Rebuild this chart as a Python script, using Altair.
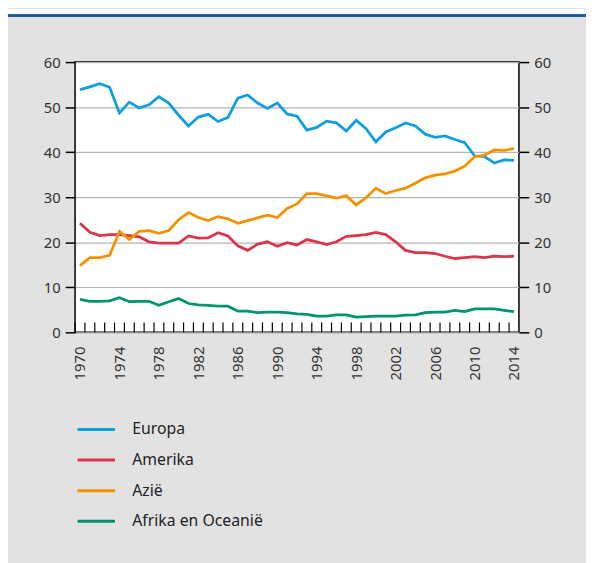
import altair as alt
import pandas as pd

years = list(range(1970, 2015))
europa = [53.9, 54.5, 55.2, 54.4, 48.7, 51.1, 49.8, 50.5, 52.3, 50.9,
          48.2, 45.8, 47.8, 48.4, 46.8, 47.7, 52.0, 52.7, 50.9, 49.7,
          50.9, 48.5, 48.0, 44.9, 45.5, 46.9, 46.5, 44.7, 47.1, 45.2,
          42.3, 44.5, 45.4, 46.5, 45.8, 44.0, 43.3, 43.6, 42.8, 42.1,
          39.2, 39.0, 37.6, 38.3, 38.2]
amerika = [24.2, 22.2, 21.5, 21.7, 21.7, 21.5, 21.2, 20.1, 19.8, 19.8,
           19.8, 21.4, 20.9, 21.0, 22.1, 21.4, 19.2, 18.2, 19.6, 20.1,
           19.1, 19.9, 19.4, 20.6, 20.1, 19.5, 20.1, 21.3, 21.5, 21.7,
           22.2, 21.7, 20.1, 18.2, 17.7, 17.7, 17.5, 16.9, 16.4, 16.6,
           16.8, 16.6, 16.9, 16.8, 16.9]
azie = [14.8, 16.6, 16.6, 17.1, 22.4, 20.6, 22.4, 22.6, 22.0, 22.6,
        25.0, 26.6, 25.5, 24.8, 25.7, 25.2, 24.2, 24.8, 25.4, 26.0,
        25.5, 27.5, 28.5, 30.8, 30.8, 30.3, 29.8, 30.3, 28.3, 29.9,
        32.0, 30.8, 31.5, 32.0, 33.1, 34.3, 34.9, 35.2, 35.8, 36.9,
        39.0, 39.3, 40.5, 40.4, 40.8]
afrika = [7.3, 6.9, 6.9, 7.0, 7.7, 6.8, 6.9, 6.9, 6.0, 6.8,
          7.5, 6.4, 6.1, 6.0, 5.8, 5.8, 4.7, 4.7, 4.4, 4.5,
          4.5, 4.4, 4.1, 4.0, 3.6, 3.6, 3.9, 3.9, 3.4, 3.5,
          3.6, 3.6, 3.6, 3.8, 3.9, 4.4, 4.5, 4.5, 4.9, 4.6,
          5.2, 5.2, 5.2, 4.9, 4.6]

series_names = ["Europa", "Amerika", "Azië", "Afrika en Oceanië"]
series_colors = ["#0f9fdf", "#d8364c", "#f39200", "#00946e"]
label_years = list(range(1970, 2015, 4))
y_ticks = [0, 10, 20, 30, 40, 50, 60]

rows = []
for name, vals in zip(series_names, [europa, amerika, azie, afrika]):
    for yr, v in zip(years, vals):
        rows.append({"jaar": yr, "waarde": v, "regio": name})
df = pd.DataFrame(rows)
ticks_df = pd.DataFrame({"jaar": years})

FONT = "Noto Sans"
W, H = 450, 274

xscale = alt.Scale(domain=[1969.5, 2014.5], nice=False, zero=False)
yscale = alt.Scale(domain=[0, 60], nice=False)

xaxis = alt.Axis(values=label_years, format="d", title=None, labelAngle=-90,
                 labelAlign="right", labelBaseline="middle",
                 ticks=False, tickSize=0, labelPadding=14, domain=False,
                 grid=False, labelFontSize=15, labelColor="#333333",
                 labelFont=FONT)

lines = alt.Chart(df).mark_line(strokeWidth=2.8).encode(
    x=alt.X("jaar:Q", scale=xscale, axis=xaxis),
    y=alt.Y("waarde:Q", scale=yscale,
            axis=alt.Axis(values=y_ticks, title=None, orient="left", tickSize=10,
                          tickColor="#000000", tickWidth=1.5, labelPadding=5,
                          labelFontSize=15, labelColor="#333333", labelFont=FONT,
                          grid=True, gridColor="#b4b4b4", gridWidth=1.2, domain=False)),
    color=alt.Color("regio:N", sort=series_names,
                    scale=alt.Scale(domain=series_names, range=series_colors),
                    legend=alt.Legend(title=None, orient="none", legendX=1, legendY=352,
                                      direction="vertical", symbolType="stroke",
                                      symbolSize=1444, symbolStrokeWidth=3,
                                      labelFontSize=16, labelFont=FONT, labelColor="#222222",
                                      labelOffset=16, rowPadding=2, padding=0)),
)

xticks = alt.Chart(ticks_df).transform_calculate(
    grens="datum.jaar - 0.5"
).mark_rule(color="#000000", strokeWidth=1.2).encode(
    x=alt.X("grens:Q", scale=xscale, axis=xaxis),
    y=alt.Y(datum=0, scale=yscale,
            axis=alt.Axis(values=y_ticks, title=None, orient="right", tickSize=10,
                          tickColor="#000000", tickWidth=1.5, labelPadding=5,
                          labelFontSize=15, labelColor="#333333", labelFont=FONT,
                          grid=False, domain=False)),
    y2=alt.value(H - 10),
)

white_top = alt.Chart(ticks_df).mark_rect(color="white").encode(
    x=alt.value(-70), x2=alt.value(520), y=alt.value(-53), y2=alt.value(-47.5)
)
blue_top = alt.Chart(ticks_df).mark_rule(color="#1f5c9e", strokeWidth=2).encode(
    x=alt.value(-70), x2=alt.value(520), y=alt.value(-47)
)

chart = alt.layer(white_top, blue_top, lines, xticks).resolve_scale(
    y="independent"
).properties(
    width=W, height=H,
    background="#e2e2e2",
    autosize=alt.AutoSizeParams(type="none"),
    padding={"left": 68, "top": 51, "right": 68, "bottom": 230},
).configure_view(
    stroke="#000000", strokeWidth=1.5, fill="white"
)

chart.save("out.html", embed_options={"renderer": "svg", "actions": False})
